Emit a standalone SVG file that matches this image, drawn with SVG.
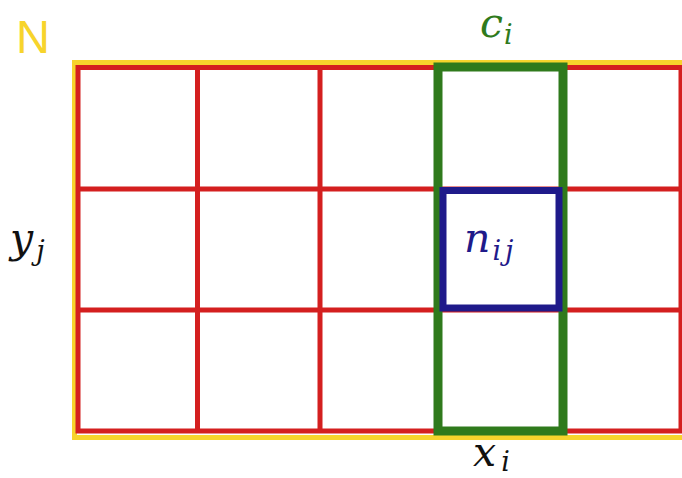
<svg xmlns="http://www.w3.org/2000/svg" width="682" height="478" viewBox="0 0 682 478">
<style>
.grid{fill:none;stroke:#d41f1f;stroke-width:5}
.math{font-family:"DejaVu Serif",serif;font-style:italic;font-size:41px}
.sub{font-size:27px}
</style>
<rect width="682" height="478" fill="#ffffff"/>
<g id="frame">
<rect x="74.5" y="62.5" width="620" height="375" fill="none" stroke="#f7d42c" stroke-width="5"/>
</g>
<g id="connectors">
<rect class="grid" x="78" y="67.5" width="603" height="363.5"/>
<line class="grid" x1="78" y1="189" x2="682" y2="189"/>
<line class="grid" x1="78" y1="310" x2="682" y2="310"/>
<line class="grid" x1="197.5" y1="67" x2="197.5" y2="431"/>
<line class="grid" x1="320" y1="67" x2="320" y2="431"/>
<line class="grid" x1="562" y1="67" x2="562" y2="431"/>
</g>
<g id="column">
<rect x="438" y="67" width="125" height="364" fill="none" stroke="#2f7a1c" stroke-width="9"/>
</g>
<g id="cell">
<rect x="443" y="190.5" width="116" height="117.5" fill="none" stroke="#1f1a8a" stroke-width="7"/>
</g>
<g id="labels">
<text x="16" y="53" font-family="Liberation Sans, Arial, sans-serif" font-size="47" fill="#f7d42c">N</text>
<text class="math" x="480" y="37" fill="#2f7a1c">c<tspan class="sub" dx="1" dy="7">i</tspan></text>
<text class="math" x="464" y="252" fill="#1f1a8a">n<tspan class="sub" dx="2" dy="8" letter-spacing="4">ij</tspan></text>
<text class="math" x="10" y="252" fill="#111">y<tspan class="sub" dx="3" dy="8">j</tspan></text>
<text class="math" x="473" y="466" fill="#111">x<tspan class="sub" dx="5" dy="5">i</tspan></text>
</g>
</svg>
